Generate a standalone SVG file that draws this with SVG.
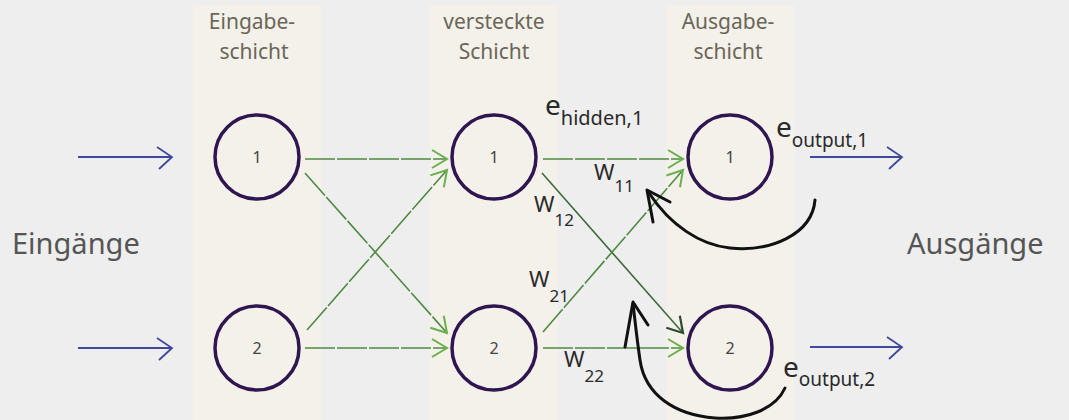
<svg xmlns="http://www.w3.org/2000/svg" width="1069" height="420" viewBox="0 0 1069 420">
<defs>
<style>
.band{fill:#f3f1ea}
.node{fill:none;stroke:#2f1650;stroke-width:3.5}
.num{font-family:"Noto Sans",sans-serif;font-size:16px;fill:#444;text-anchor:middle}
.head{font-family:"Noto Sans",sans-serif;font-size:21px;fill:#6a6658;text-anchor:middle}
.side{font-family:"Noto Sans",sans-serif;font-size:29px;fill:#555}
.lbl{font-family:"Noto Sans",sans-serif;fill:#2a2a2a}
.g{stroke:#4f8a42;stroke-width:1.6;fill:none;stroke-dasharray:30 2}
.gd{stroke:#3e6a3a;stroke-width:1.6;fill:none}
.b{stroke:#3d4a9a;stroke-width:1.8;fill:none}
.k{stroke:#111;stroke-width:3;fill:none;stroke-linecap:round;stroke-linejoin:round}
</style>
<marker id="mg" markerUnits="userSpaceOnUse" markerWidth="30" markerHeight="30" refX="0" refY="0" viewBox="-20 -15 30 30" orient="auto">
<path d="M-15,-9 L0,0 L-15,9" fill="none" stroke="#6ab04c" stroke-width="2"/>
</marker>
<marker id="md" markerUnits="userSpaceOnUse" markerWidth="30" markerHeight="30" refX="0" refY="0" viewBox="-20 -15 30 30" orient="auto">
<path d="M-15,-9 L0,0 L-15,9" fill="none" stroke="#2f4a2f" stroke-width="2.2"/>
</marker>
<marker id="mb" markerUnits="userSpaceOnUse" markerWidth="30" markerHeight="30" refX="0" refY="0" viewBox="-20 -15 30 30" orient="auto">
<path d="M-15,-10 L0,0 L-13,12" fill="none" stroke="#3d4a9a" stroke-width="1.8"/>
</marker>
</defs>
<rect width="1069" height="420" fill="#eeeeee"/>
<g id="bands">
<rect class="band" x="193" y="5" width="128" height="415"/>
<rect class="band" x="430" y="5" width="128" height="415"/>
<rect class="band" x="666" y="5" width="128" height="415"/>
</g>
<g id="headers">
<text class="head" x="252" y="29">Eingabe-</text>
<text class="head" x="254" y="59">schicht</text>
<text class="head" x="494" y="29">versteckte</text>
<text class="head" x="494" y="59">Schicht</text>
<text class="head" x="728" y="29">Ausgabe-</text>
<text class="head" x="728" y="59">schicht</text>
</g>
<text class="side" x="12" y="254">Eingänge</text>
<text class="side" x="907" y="254">Ausgänge</text>
<g id="connectors">
<line class="b" x1="78" y1="157" x2="172" y2="157" marker-end="url(#mb)"/>
<line class="b" x1="78" y1="348" x2="172" y2="348" marker-end="url(#mb)"/>
<line class="g" x1="305" y1="159" x2="447" y2="159" marker-end="url(#mg)"/>
<line class="g" x1="305" y1="173" x2="447" y2="333" marker-end="url(#mg)"/>
<line class="g" x1="307" y1="330" x2="447" y2="170" marker-end="url(#mg)"/>
<line class="g" x1="305" y1="348" x2="447" y2="348" marker-end="url(#mg)"/>
<line class="g" x1="543" y1="159" x2="683" y2="159" marker-end="url(#mg)"/>
<line class="gd" x1="542" y1="173" x2="683" y2="333" marker-end="url(#md)"/>
<line class="g" x1="543" y1="332" x2="683" y2="170" marker-end="url(#mg)"/>
<line class="g" x1="543" y1="348" x2="683" y2="348" marker-end="url(#mg)"/>
<line class="b" x1="810" y1="157" x2="902" y2="157" marker-end="url(#mb)"/>
<line class="b" x1="810" y1="347" x2="902" y2="347" marker-end="url(#mb)"/>
<path class="k" d="M815,200 C812,235 770,252 730,248 C700,245 670,225 649,193"/>
<polyline class="k" points="653,222 647,190 670,202"/>
<path class="k" d="M785,388 C775,410 745,420 715,418 C675,415 645,395 640,360 C637,340 635,320 633,304"/>
<polyline class="k" points="625,347 633,302 648,325"/>
</g>
<g id="in1"><circle class="node" cx="257" cy="157" r="42"/><text class="num" x="257" y="163">1</text></g>
<g id="in2"><circle class="node" cx="257" cy="348" r="42"/><text class="num" x="257" y="354">2</text></g>
<g id="hid1"><circle class="node" cx="494" cy="157" r="42"/><text class="num" x="494" y="163">1</text></g>
<g id="hid2"><circle class="node" cx="494" cy="348" r="42"/><text class="num" x="494" y="354">2</text></g>
<g id="out1"><circle class="node" cx="730" cy="157" r="42"/><text class="num" x="730" y="163">1</text></g>
<g id="out2"><circle class="node" cx="730" cy="348" r="42"/><text class="num" x="730" y="354">2</text></g>
<g id="labels">
<text class="lbl" x="545" y="115" font-size="28">e<tspan font-size="20" dy="10">hidden,1</tspan></text>
<text class="lbl" x="776" y="137" font-size="28">e<tspan font-size="19" dy="10">output,1</tspan></text>
<text class="lbl" x="783" y="377" font-size="28">e<tspan font-size="19" dy="9">output,2</tspan></text>
<text class="lbl" x="594" y="180" font-size="22">W<tspan font-size="17" dy="12">11</tspan></text>
<text class="lbl" x="534" y="212" font-size="22">W<tspan font-size="17" dy="14">12</tspan></text>
<text class="lbl" x="529" y="287" font-size="22">W<tspan font-size="17" dy="15">21</tspan></text>
<text class="lbl" x="564" y="367" font-size="22">W<tspan font-size="17" dy="15">22</tspan></text>
</g>
</svg>
